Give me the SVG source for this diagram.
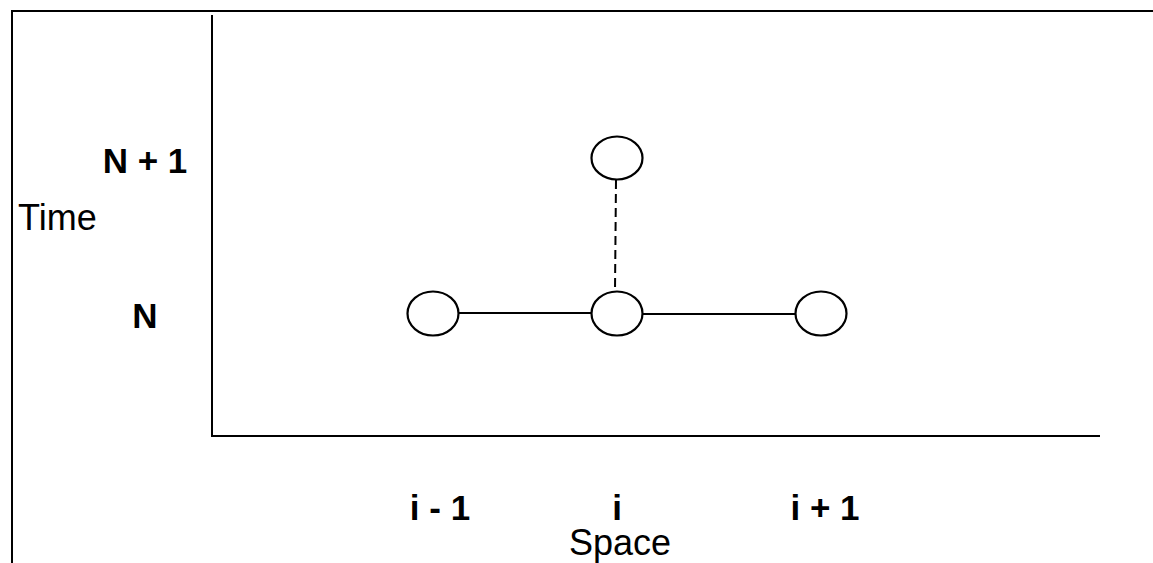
<svg xmlns="http://www.w3.org/2000/svg" width="1153" height="563" viewBox="0 0 1153 563">
<style>
.ln{stroke:#000;stroke-width:2;fill:none}
.nd{stroke:#000;stroke-width:2.2;fill:#fff}
.b{font-family:"Liberation Sans",Arial,sans-serif;font-weight:bold;font-size:35px;fill:#000}
.r{font-family:"Liberation Sans",Arial,sans-serif;font-size:36px;fill:#000}
</style>
<rect x="0" y="0" width="1153" height="563" fill="#fff"/>
<g id="frame">
<path class="ln" d="M12 563 V11 H1153"/>
<path class="ln" d="M212 15 V436 H1100"/>
</g>
<g id="labels">
<text class="b" x="145" y="173" text-anchor="middle">N + 1</text>
<text class="r" x="18" y="230">Time</text>
<text class="b" x="145" y="328" text-anchor="middle">N</text>
<text class="b" x="440" y="520" text-anchor="middle">i - 1</text>
<text class="b" x="617" y="520" text-anchor="middle">i</text>
<text class="b" x="825" y="520" text-anchor="middle">i + 1</text>
<text class="r" x="620" y="555" text-anchor="middle">Space</text>
</g>
<g id="connectors">
<line class="ln" x1="459" y1="313" x2="592" y2="313"/>
<line class="ln" x1="643" y1="314" x2="795" y2="314"/>
<line class="ln" x1="616" y1="180" x2="615" y2="291" stroke-dasharray="9,5" stroke-width="1.6"/>
</g>
<g id="node-top"><ellipse class="nd" cx="617" cy="158" rx="25.5" ry="21.5"/></g>
<g id="node-left"><ellipse class="nd" cx="433" cy="313.5" rx="25.5" ry="22"/></g>
<g id="node-center"><ellipse class="nd" cx="617" cy="313.5" rx="25.5" ry="22"/></g>
<g id="node-right"><ellipse class="nd" cx="821" cy="313.5" rx="25.5" ry="22"/></g>
</svg>
